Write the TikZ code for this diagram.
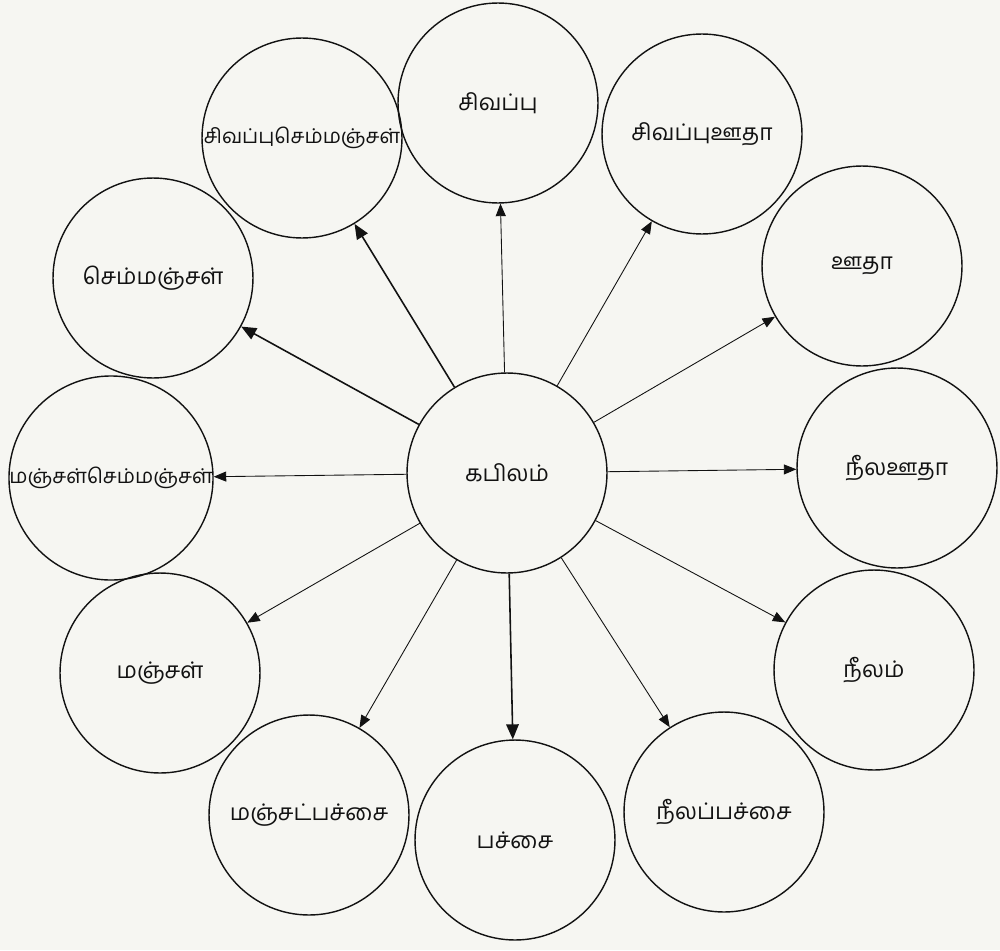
\documentclass[tikz,border=0pt]{standalone}
\usepackage{fontspec}
\newfontfamily\tamilfont[Script=Tamil]{Hind Madurai}
\usetikzlibrary{arrows.meta}
\definecolor{paperwhite}{rgb}{0.965,0.965,0.95}
\definecolor{inkblack}{rgb}{0.07,0.07,0.07}
\tikzset{
  vattam/.style={
    circle,
    draw=inkblack,
    line width=0.8pt,
    minimum size=4cm,
    inner sep=0pt,
    align=center,
    text=inkblack,
    font=\tamilfont\fontsize{13}{15}\selectfont
  },
  siruvattam/.style={
    vattam,
    font=\tamilfont\fontsize{11.6}{14}\selectfont
  },
  arrow/.style={
    -{Triangle[length=2.5mm,width=2mm]},
    line width=0.5pt,
    inkblack
  },
  heavyarrow/.style={
    arrow,
    -{Triangle[length=3mm,width=2.5mm]},
    line width=0.9pt
  }
}

\begin{document}
\begin{tikzpicture}[x=0.02cm,y=-0.02cm]
\useasboundingbox (0,0) rectangle (1000,950);
\fill[paperwhite] (0,0) rectangle (1000,950);
\node[vattam] (kap) at (507,473) {கபிலம்};
\node[vattam] (siv) at (498,103) {சிவப்பு};
\node[siruvattam] (sivsem) at (302,138) {சிவப்புசெம்மஞ்சள்};
\node[vattam] (sivuu) at (702,134) {சிவப்புஊதா};
\node[vattam] (uu) at (862,266) {ஊதா};
\node[vattam] (neeluu) at (897,468) {நீலஊதா};
\node[vattam] (neel) at (874,670) {நீலம்};
\node[vattam] (neelpac) at (724,812) {நீலப்பச்சை};
\node[vattam] (pac) at (515,840) {பச்சை};
\node[vattam] (manpac) at (309,815) {மஞ்சட்பச்சை};
\node[vattam] (man) at (160,673) {மஞ்சள்};
\node[siruvattam] (mansem) at (111,478) {மஞ்சள்செம்மஞ்சள்};
\node[vattam] (sem) at (153,278) {செம்மஞ்சள்};
\draw[arrow] (kap) -- (siv);
\draw[heavyarrow] (kap) -- (sivsem);
\draw[arrow] (kap) -- (sivuu);
\draw[arrow] (kap) -- (uu);
\draw[arrow] (kap) -- (neeluu);
\draw[arrow] (kap) -- (neel);
\draw[arrow] (kap) -- (neelpac);
\draw[heavyarrow] (kap) -- (pac);
\draw[arrow] (kap) -- (manpac);
\draw[arrow] (kap) -- (man);
\draw[arrow] (kap) -- (mansem);
\draw[heavyarrow] (kap) -- (sem);
\end{tikzpicture}
\end{document}
